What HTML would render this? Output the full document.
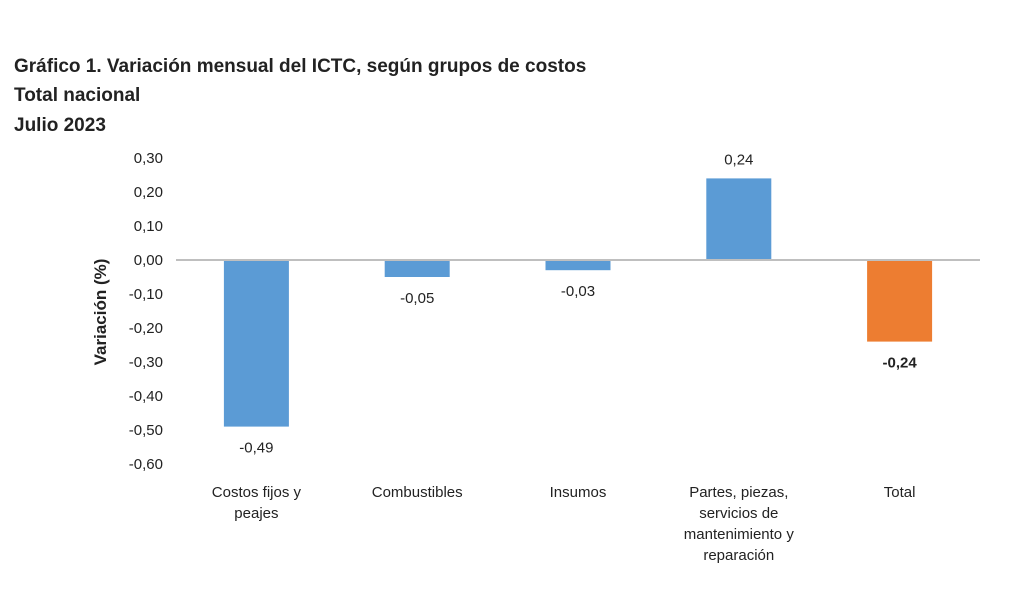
<!DOCTYPE html>
<html><head><meta charset="utf-8"><style>
body{margin:0;background:#fff;font-family:"Liberation Sans",sans-serif}
svg text{font-family:"Liberation Sans",sans-serif;fill:#222}
</style></head><body>
<svg id="c" width="1024" height="604" xmlns="http://www.w3.org/2000/svg">
<text x="14" y="72" font-size="19" font-weight="bold">Gráfico 1. Variación mensual del ICTC, según grupos de costos</text>
<text x="14" y="101" font-size="19" font-weight="bold">Total nacional</text>
<text x="14" y="131" font-size="19" font-weight="bold">Julio 2023</text>
<text transform="translate(106,312) rotate(-90)" text-anchor="middle" font-size="17" font-weight="bold">Variación (%)</text>
<g id="ticks"></g><g id="bars"></g><g id="labels"></g>
</svg>
<script>
const categories=[["Costos fijos y","peajes"],["Combustibles"],["Insumos"],["Partes, piezas,","servicios de","mantenimiento y","reparación"],["Total"]];
const values=[-0.49,-0.05,-0.03,0.24,-0.24];
const valueLabels=["-0,49","-0,05","-0,03","0,24","-0,24"];
const tickValues=[0.3,0.2,0.1,0,-0.1,-0.2,-0.3,-0.4,-0.5,-0.6];
const tickLabels=["0,30","0,20","0,10","0,00","-0,10","-0,20","-0,30","-0,40","-0,50","-0,60"];
const NS="http://www.w3.org/2000/svg";
const x0=176,x1=980,bw=(x1-x0)/categories.length,barW=65;
const y=v=>260-v*340;
const xc=i=>x0+bw*(i+0.5);
function mk(t,a,p){const e=document.createElementNS(NS,t);for(const k in a)e.setAttribute(k,a[k]);document.getElementById(p).appendChild(e);return e;}
tickValues.forEach((v,i)=>{
const t=mk("text",{x:163,y:y(v)+5,"text-anchor":"end","font-size":"15"},"ticks");


t.textContent=tickLabels[i];});
values.forEach((v,i)=>{
const last=i===values.length-1;
const r=mk("rect",{x:xc(i)-barW/2,y:Math.min(y(v),y(0)),width:barW,height:Math.abs(y(v)-y(0)),fill:last?"#ed7d31":"#5b9bd5"},"bars");


const t=mk("text",{x:xc(i),y:v<0?y(v)+26:y(v)-14,"text-anchor":"middle","font-size":"15","font-weight":last?"bold":"normal"},"labels");


t.textContent=valueLabels[i];
categories[i].forEach((s,j)=>{
const c=mk("text",{x:xc(i),y:497+j*21,"text-anchor":"middle","font-size":"15"},"labels");


c.textContent=s;});
});
const z=mk("line",{x1:x0,x2:x1,y1:y(0),y2:y(0),stroke:"#bfbfbf","stroke-width":"2"},"bars");


</script>
</body></html>
